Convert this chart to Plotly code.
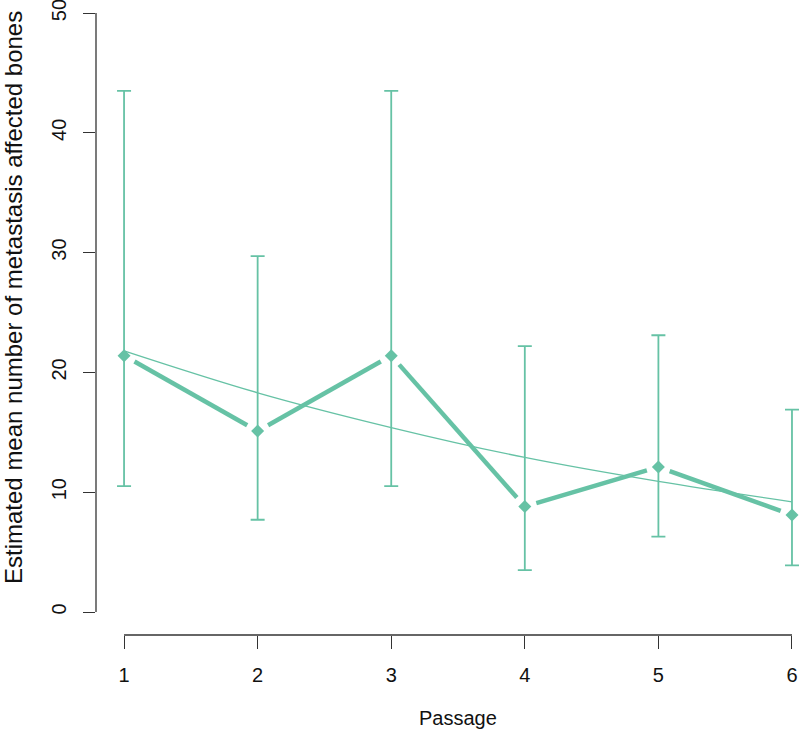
import plotly.graph_objects as go

passage = [1, 2, 3, 4, 5, 6]
mean_bones = [21.4, 15.1, 21.4, 8.8, 12.1, 8.1]
ci_lower = [10.5, 7.7, 10.5, 3.5, 6.3, 3.9]
ci_upper = [43.5, 29.7, 43.5, 22.2, 23.1, 16.9]
fit_values = [21.8, 18.3, 15.4, 12.9, 10.9, 9.2]
y_ticks = [0, 10, 20, 30, 40, 50]

COLOR = "#66C2A5"
AXIS = "#333333"
FONT = "Liberation Sans, Arial, sans-serif"

W, H = 800, 735
ML, MR, MT, MB = 96, 0, 2, 100
XR = [0.79, 6.06]
YR = [-1.92, 50.92]
sx = (W - ML - MR) / (XR[1] - XR[0])
sy = (H - MT - MB) / (YR[1] - YR[0])

# R type="b" style: segments with gaps around the points
GAP = 12
seg_x, seg_y = [], []
for i in range(len(passage) - 1):
    x1, x2 = passage[i], passage[i + 1]
    y1, y2 = mean_bones[i], mean_bones[i + 1]
    L = (((x2 - x1) * sx) ** 2 + ((y2 - y1) * sy) ** 2) ** 0.5
    f = GAP / L
    seg_x += [x1 + f * (x2 - x1), x2 - f * (x2 - x1), None]
    seg_y += [y1 + f * (y2 - y1), y2 - f * (y2 - y1), None]

fig = go.Figure()
fig.add_trace(go.Scatter(
    x=passage, y=mean_bones, mode="markers",
    marker=dict(size=0.1, color=COLOR, opacity=0),
    error_y=dict(type="data", symmetric=False,
                 array=[u - m for u, m in zip(ci_upper, mean_bones)],
                 arrayminus=[m - l for m, l in zip(mean_bones, ci_lower)],
                 color=COLOR, thickness=1.8, width=7),
    cliponaxis=False, hoverinfo="skip"))
fig.add_trace(go.Scatter(
    x=passage, y=fit_values, mode="lines", line=dict(color=COLOR, width=1.3, shape="spline"),
    cliponaxis=False))
fig.add_trace(go.Scatter(
    x=seg_x, y=seg_y, mode="lines", line=dict(color=COLOR, width=4.5),
    cliponaxis=False))
fig.add_trace(go.Scatter(
    x=passage, y=mean_bones, mode="markers",
    marker=dict(symbol="diamond", size=10, color=COLOR, line=dict(width=0)),
    cliponaxis=False))

# R-style axis lines spanning the tick range
fig.add_shape(type="line", xref="x", yref="paper", x0=min(passage), x1=max(passage), y0=0, y1=0,
              line=dict(color=AXIS, width=1.3))
fig.add_shape(type="line", xref="paper", yref="y", x0=0, x1=0, y0=min(y_ticks), y1=max(y_ticks),
              line=dict(color=AXIS, width=1.3))

fig.add_annotation(text="Passage", xref="paper", yref="paper", x=(458 - ML) / (W - ML - MR),
                   y=-(718 - (H - MB)) / (H - MT - MB), showarrow=False,
                   font=dict(size=20, color="#111", family=FONT), xanchor="center", yanchor="middle")
fig.add_annotation(text="Estimated mean number of metastasis affected bones", xref="paper", yref="paper",
                   x=-(ML - 13) / (W - ML - MR), y=(H - MB - 298) / (H - MT - MB), textangle=-90,
                   showarrow=False, font=dict(size=24, color="#111", family=FONT),
                   xanchor="center", yanchor="middle")

fig.update_layout(
    width=W, height=H, margin=dict(l=ML, r=MR, t=MT, b=MB, autoexpand=False),
    paper_bgcolor="white", plot_bgcolor="white", showlegend=False,
    font=dict(family=FONT, size=20, color="#111"),
    xaxis=dict(range=XR, tickvals=passage, ticktext=[str(p) for p in passage],
               showgrid=False, zeroline=False, showline=False, automargin=False,
               ticks="outside", ticklen=13, tickwidth=1.3, tickcolor=AXIS,
               ticklabelstandoff=9, ticklabeloverflow="allow"),
    yaxis=dict(range=YR, tickvals=y_ticks, ticktext=[str(t) for t in y_ticks],
               showgrid=False, zeroline=False, showline=False, automargin=False,
               ticks="outside", ticklen=12, tickwidth=1.3, tickcolor=AXIS,
               tickangle=-90, ticklabelstandoff=9, ticklabeloverflow="allow"),
)

fig.write_html("out.html", config={"displayModeBar": False},
               post_script="document.body.style.margin='0';document.body.style.overflow='hidden';")
